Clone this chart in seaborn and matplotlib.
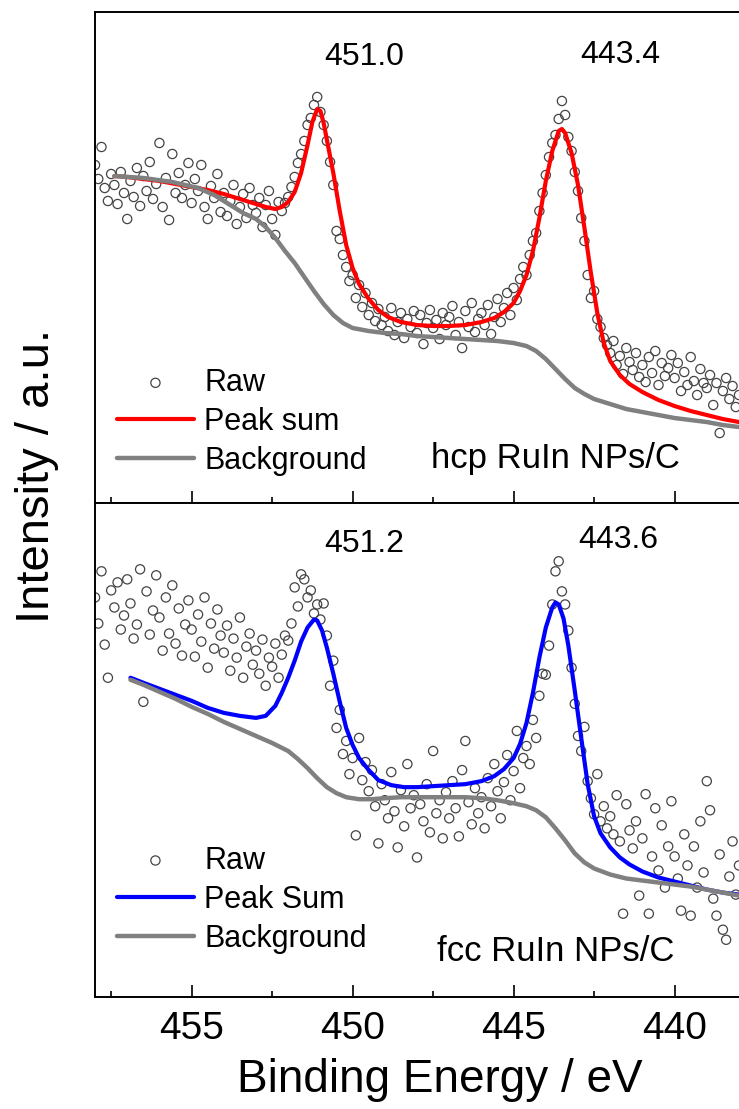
import numpy as np
import pandas as pd
import seaborn as sns
import matplotlib
matplotlib.use("Agg")
import matplotlib.pyplot as plt
from matplotlib.ticker import MultipleLocator

# energy grid of the raw scans (eV)
raw_energy = [
    458.0, 457.9, 457.8, 457.7, 457.6, 457.5, 457.4, 457.3, 457.2, 457.1,
    457.0, 456.9, 456.8, 456.7, 456.6, 456.5, 456.4, 456.3, 456.2, 456.1,
    456.0, 455.9, 455.8, 455.7, 455.6, 455.5, 455.4, 455.3, 455.2, 455.1,
    455.0, 454.9, 454.8, 454.7, 454.6, 454.5, 454.4, 454.3, 454.2, 454.1,
    454.0, 453.9, 453.8, 453.7, 453.6, 453.5, 453.4, 453.3, 453.2, 453.1,
    453.0, 452.9, 452.8, 452.7, 452.6, 452.5, 452.4, 452.3, 452.2, 452.1,
    452.0, 451.9, 451.8, 451.7, 451.6, 451.5, 451.4, 451.3, 451.2, 451.1,
    451.0, 450.9, 450.8, 450.7, 450.6, 450.5, 450.4, 450.3, 450.2, 450.1,
    450.0, 449.9, 449.8, 449.7, 449.6, 449.5, 449.4, 449.3, 449.2, 449.1,
    449.0, 448.9, 448.8, 448.7, 448.6, 448.5, 448.4, 448.3, 448.2, 448.1,
    448.0, 447.9, 447.8, 447.7, 447.6, 447.5, 447.4, 447.3, 447.2, 447.1,
    447.0, 446.9, 446.8, 446.7, 446.6, 446.5, 446.4, 446.3, 446.2, 446.1,
    446.0, 445.9, 445.8, 445.7, 445.6, 445.5, 445.4, 445.3, 445.2, 445.1,
    445.0, 444.9, 444.8, 444.7, 444.6, 444.5, 444.4, 444.3, 444.2, 444.1,
    444.0, 443.9, 443.8, 443.7, 443.6, 443.5, 443.4, 443.3, 443.2, 443.1,
    443.0, 442.9, 442.8, 442.7, 442.6, 442.5, 442.4, 442.3, 442.2, 442.1,
    442.0, 441.9, 441.8, 441.7, 441.6, 441.5, 441.4, 441.3, 441.2, 441.1,
    441.0, 440.9, 440.8, 440.7, 440.6, 440.5, 440.4, 440.3, 440.2, 440.1,
    440.0, 439.9, 439.8, 439.7, 439.6, 439.5, 439.4, 439.3, 439.2, 439.1,
    439.0, 438.9, 438.8, 438.7, 438.6, 438.5, 438.4, 438.3, 438.2, 438.1,
    438.0,
]

# hcp RuIn NPs/C
hcp_raw = [
    338, 324, 356, 315, 302, 329, 318, 299, 331, 310,
    284, 322, 306, 335, 297, 327, 312, 341, 304, 319,
    360, 296, 325, 283, 349, 310, 330, 305, 318, 340,
    300, 324, 312, 338, 296, 284, 317, 305, 329, 291,
    310, 287, 302, 318, 279, 296, 309, 285, 315, 298,
    290, 305, 276, 298, 312, 284, 268, 301, 292, 300,
    306, 316, 326, 340, 349, 362, 378, 385, 398, 406,
    391, 378, 362, 341, 318, 272, 264, 248, 236, 222,
    228, 205, 218, 196, 210, 188, 200, 182, 194, 178,
    186, 172, 195, 168, 181, 190, 165, 184, 176, 192,
    170, 188, 159, 180, 193, 175, 183, 164, 190, 178,
    186, 197, 168, 181, 155, 192, 176, 200, 171, 184,
    190, 178, 198, 169, 186, 204, 181, 195, 210, 188,
    215, 203, 224, 236, 228, 248, 262, 270, 292, 310,
    328, 346, 360, 368, 384, 402, 388, 366, 352, 331,
    312, 285, 262, 228, 205, 212, 184, 176, 165, 158,
    150, 162, 138, 147, 129, 155, 141, 133, 150, 126,
    138, 121, 146, 130, 152, 118, 140, 127, 135, 148,
    125, 140, 112, 131, 118, 146, 122, 108, 134, 120,
    115, 128, 98, 120, 70, 112, 125, 104, 117, 96,
    108,
]
hcp_fit_energy = [457.4, 457.0, 456.5, 456.0, 455.5, 455.0, 454.5, 454.0, 453.5, 453.0,
                  452.7, 452.4, 452.2, 452.0, 451.8, 451.6, 451.4, 451.25, 451.1, 451.0,
                  450.9, 450.75, 450.6, 450.4, 450.2, 450.0, 449.8, 449.5, 449.2, 448.9,
                  448.5, 448.0, 447.5, 447.0, 446.5, 446.0, 445.6, 445.3, 445.0, 444.8,
                  444.6, 444.4, 444.2, 444.0, 443.8, 443.6, 443.5, 443.4, 443.2, 443.0,
                  442.8, 442.6, 442.4, 442.2, 442.0, 441.7, 441.4, 441.0, 440.5, 440.0,
                  439.5, 439.0, 438.5, 438.0]
hcp_fit = [327, 326, 324, 322, 319, 316, 313, 309, 304, 299,
           296, 294, 296, 301, 311, 330, 358, 381, 394, 392,
           380, 355, 330, 292, 258, 235, 219, 204, 193, 186,
           181, 178, 177, 177, 178, 181, 185, 191, 200, 212,
           228, 252, 285, 322, 352, 372, 374, 370, 350, 318,
           275, 230, 190, 160, 142, 128, 119, 111, 103, 97,
           92, 88, 84, 81]
hcp_bg_energy = [457.4, 456.5, 455.6, 454.8, 454.3, 453.8, 453.4, 453.0, 452.7, 452.4,
                 452.1, 451.8, 451.5, 451.2, 450.9, 450.6, 450.3, 450.0, 449.5, 449.0,
                 448.5, 448.0, 447.5, 447.0, 446.5, 446.0, 445.5, 445.0, 444.6, 444.3,
                 444.0, 443.7, 443.4, 443.1, 442.8, 442.5, 442.0, 441.5, 441.0, 440.5,
                 440.0, 439.5, 439.0, 438.5, 438.0]
hcp_bg = [327, 325, 321, 315, 308, 298, 290, 284, 276, 265,
          252, 240, 226, 212, 199, 188, 180, 175, 172, 170,
          169, 167, 166, 165, 164, 163, 162, 160, 157, 152,
          144, 134, 124, 115, 109, 104, 99, 94, 91, 88,
          85, 83, 81, 78, 76]

# fcc RuIn NPs/C
fcc_raw = [
    398, 372, 424, 351, 318, 405, 388, 413, 366, 380,
    416, 392, 357, 371, 426, 294, 404, 361, 385, 420,
    378, 345, 398, 362, 410, 352, 387, 340, 371, 395,
    366, 339, 381, 354, 398, 328, 372, 347, 386, 360,
    343, 370, 325, 357, 338, 378, 318, 349, 362, 331,
    345, 322, 356, 310, 338, 329, 352, 318, 341, 360,
    355, 372, 408, 389, 421, 416, 398, 405, 382, 391,
    376, 392, 360, 310, 335, 268, 286, 242, 255, 222,
    238, 161, 258, 216, 234, 205, 226, 190, 153, 212,
    196, 178, 224, 185, 149, 206, 170, 232, 188, 201,
    139, 192, 175, 212, 164, 245, 183, 196, 158, 204,
    178, 215, 188, 160, 226, 255, 194, 172, 208, 183,
    199, 168, 218, 190, 232, 205, 178, 214, 241, 196,
    225, 265, 208, 238, 250, 232, 276, 258, 300, 322,
    321, 350, 391, 424, 434, 404, 391, 365, 328, 292,
    260, 245, 269, 215, 198, 182, 222, 175, 190, 168,
    180, 162, 201, 155, 83, 192, 166, 148, 175, 101,
    158, 202, 83, 140, 188, 126, 171, 109, 150, 195,
    140, 118, 86, 162, 131, 81, 150, 109, 175, 124,
    215, 186, 98, 81, 142, 67, 57, 120, 155, 102,
    131,
]
fcc_fit_energy = [456.9, 456.5, 456.0, 455.5, 455.0, 454.5, 454.0, 453.5, 453.0,
                  452.7, 452.4, 452.2, 452.0, 451.8, 451.6, 451.4, 451.2, 451.1, 450.95,
                  450.8, 450.6, 450.4, 450.2, 450.0, 449.8, 449.5, 449.2, 448.8, 448.4,
                  448.0, 447.5, 447.0, 446.5, 446.0, 445.6, 445.3, 445.0, 444.8, 444.6,
                  444.4, 444.2, 444.0, 443.8, 443.7, 443.6, 443.45, 443.3, 443.1, 442.9,
                  442.7, 442.5, 442.3, 442.0, 441.7, 441.4, 441.0, 440.5, 440.0, 439.5,
                  439.0, 438.5, 438.0]
fcc_fit = [318, 313, 307, 301, 295, 288, 283, 280, 278,
           280, 290, 303, 318, 335, 354, 368, 376, 375, 365,
           348, 322, 294, 268, 251, 238, 226, 216, 211, 209,
           209, 210, 211, 212, 215, 220, 227, 238, 252, 273,
           303, 338, 368, 388, 393, 391, 377, 350, 305, 258,
           212, 180, 163, 149, 139, 132, 125, 119, 115, 111,
           107, 104, 102]
fcc_bg_energy = [456.9, 456.5, 456.0, 455.5, 455.0, 454.5, 454.0, 453.5, 453.0, 452.5,
                 452.0, 451.7, 451.4, 451.1, 450.8, 450.5, 450.2, 449.8, 449.4, 449.0,
                 448.5, 448.0, 447.5, 447.0, 446.5, 446.0, 445.5, 445.0, 444.6, 444.3,
                 444.0, 443.7, 443.4, 443.1, 442.8, 442.5, 442.0, 441.5, 441.0, 440.5,
                 440.0, 439.5, 439.0, 438.5, 438.0]
fcc_bg = [316, 311, 304, 297, 289, 282, 274, 267, 260, 253,
          245, 237, 228, 218, 209, 203, 199, 197, 197, 198,
          199, 199, 199, 199, 199, 198, 196, 193, 190, 186,
          179, 168, 156, 143, 134, 128, 122, 118, 116, 114,
          112, 110, 107, 104, 101]

sns.set_style("ticks")
plt.rcParams['font.family'] = ['Liberation Sans', 'DejaVu Sans']
plt.rcParams['text.color'] = 'black'
plt.rcParams['xtick.color'] = 'black'
plt.rcParams['axes.edgecolor'] = 'black'

fig = plt.figure(figsize=(7.39, 11.09), dpi=100)
ax1 = fig.add_axes([0.1286, 0.5464, 0.8714, 0.4428])
ax2 = fig.add_axes([0.1286, 0.1010, 0.8714, 0.4454])

panels = [
    (ax1, hcp_raw, hcp_fit_energy, hcp_fit, hcp_bg_energy, hcp_bg, "red", "Peak sum",
     "hcp RuIn NPs/C", [("451.0", 449.65, 446), ("443.4", 441.7, 448)], 491, 0.165),
    (ax2, fcc_raw, fcc_fit_energy, fcc_fit, fcc_bg_energy, fcc_bg, "#0000ff", "Peak Sum",
     "fcc RuIn NPs/C", [("451.2", 449.65, 451), ("443.6", 441.75, 455)], 492, 0.197),
]

for ax, raw, fe, fv, be, bv, col, fit_label, sample, peaks, ytop, leg_y in panels:
    df_raw = pd.DataFrame({"energy": raw_energy, "intensity": raw})
    df_fit = pd.DataFrame({"energy": fe, "intensity": fv})
    df_bg = pd.DataFrame({"energy": be, "intensity": bv})

    sns.scatterplot(data=df_raw, x="energy", y="intensity", ax=ax, marker="o",
                    facecolor="none", edgecolor="#444444", linewidth=0.9, s=44,
                    label="Raw", zorder=2)
    sns.lineplot(data=df_fit, x="energy", y="intensity", ax=ax, color=col, lw=3,
                 estimator=None, sort=False, label=fit_label, zorder=3)
    sns.lineplot(data=df_bg, x="energy", y="intensity", ax=ax, color="#808080", lw=3.2,
                 estimator=None, sort=False, label="Background", zorder=3)

    ax.set_xlim(458, 438)
    ax.set_ylim(0, ytop)
    ax.set_xlabel("")
    ax.set_ylabel("")
    ax.set_yticks([])
    ax.xaxis.set_major_locator(MultipleLocator(5))
    ax.xaxis.set_minor_locator(MultipleLocator(2.5))
    ax.tick_params(axis="x", which="major", direction="in", length=8.5, width=1.2,
                   labelsize=28, pad=10, top=False)
    ax.tick_params(axis="x", which="minor", direction="in", length=4.5, width=1.2, top=False)
    for side in ["left", "top", "bottom"]:
        ax.spines[side].set_linewidth(1.4)
    ax.spines["right"].set_visible(False)

    for txt, xe, yv in peaks:
        ax.text(xe, yv, txt, ha="center", va="center", fontsize=23)
    ax.text(443.7, 45, sample, ha="center", va="center", fontsize=25)

    ax.legend(loc="center left", bbox_to_anchor=(0.0155, leg_y), frameon=False,
              fontsize=22, handlelength=2.5, handletextpad=0.35,
              labelspacing=0.3, borderaxespad=0)

ax1.tick_params(axis="x", labelbottom=False)

fig.text(0.05, 1 - 476 / 1109, "Intensity / a.u.", rotation=90, ha="center", va="center",
         fontsize=34)
fig.text(0.595, 1 - 1080 / 1109, "Binding Energy / eV", ha="center", va="center", fontsize=33)

fig.savefig("out.png", dpi=100, facecolor="white")
